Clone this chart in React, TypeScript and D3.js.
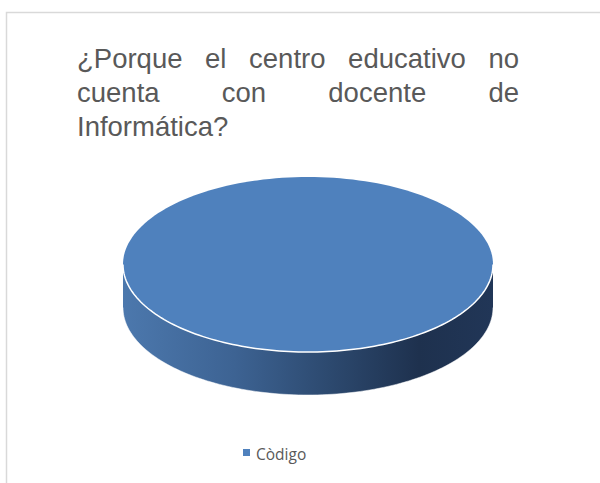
import React from "react";
import * as d3 from "d3";

const categories = ["Còdigo"];
const values = [100];
const titleLines = [
  ["¿Porque", "el", "centro", "educativo", "no"],
  ["cuenta", "con", "docente", "de"],
  ["Informática?"],
];
const colors = ["#4f81bd"];

const W = 600;
const H = 483;
const titleFont = "27.5px 'Liberation Sans', Arial, sans-serif";

function measure(text: string, font: string): number {
  const c = document.createElement("canvas");
  const ctx = c.getContext("2d")!;
  ctx.font = font;
  return ctx.measureText(text).width;
}

export default function App() {
  const cx = 308;
  const cy = 264.5;
  const rx = 185;
  const ry = 87.5;
  const depth = 43;

  const pie = d3.pie<number>().sort(null)(values);
  const ex = d3.scaleLinear().domain([-1, 1]).range([cx - rx, cx + rx]);
  const ey = d3.scaleLinear().domain([-1, 1]).range([cy - ry, cy + ry]);

  const topPath = (s: number, e: number) => {
    const p = d3.path();
    const n = 180;
    const full = e - s >= Math.PI * 2 - 1e-6;
    if (!full) p.moveTo(cx, cy);
    for (let i = 0; i <= n; i++) {
      const a = s + ((e - s) * i) / n;
      const x = ex(Math.sin(a));
      const y = ey(-Math.cos(a));
      if (i === 0 && full) p.moveTo(x, y);
      else p.lineTo(x, y);
    }
    p.closePath();
    return p.toString();
  };

  const sidePath = (s: number, e: number) => {
    const a0 = Math.max(s, Math.PI / 2);
    const a1 = Math.min(e, (Math.PI * 3) / 2);
    if (a1 <= a0) return "";
    const n = 120;
    const p = d3.path();
    for (let i = 0; i <= n; i++) {
      const a = a0 + ((a1 - a0) * i) / n;
      const x = ex(Math.sin(a));
      const y = ey(-Math.cos(a));
      if (i === 0) p.moveTo(x, y);
      else p.lineTo(x, y);
    }
    for (let i = n; i >= 0; i--) {
      const a = a0 + ((a1 - a0) * i) / n;
      p.lineTo(ex(Math.sin(a)), ey(-Math.cos(a)) + depth);
    }
    p.closePath();
    return p.toString();
  };

  const arcLine = (offset: number) => {
    const p = d3.path();
    const n = 120;
    for (let i = 0; i <= n; i++) {
      const a = Math.PI / 2 + (Math.PI * i) / n;
      const x = ex(Math.sin(a));
      const y = ey(-Math.cos(a)) + offset;
      if (i === 0) p.moveTo(x, y);
      else p.lineTo(x, y);
    }
    return p.toString();
  };

  const left = 77;
  const right = 519;
  const lineYs = [68, 102, 136];

  const titleEls: React.ReactNode[] = [];
  titleLines.forEach((words, li) => {
    const last = li === titleLines.length - 1;
    if (last || words.length === 1) {
      titleEls.push(
        <text key={`t${li}`} x={left} y={lineYs[li]}>
          {words.join(" ")}
        </text>
      );
      return;
    }
    const widths = words.map((w) => measure(w, titleFont));
    const total = widths.reduce((a, b) => a + b, 0);
    const gap = (right - left - total) / (words.length - 1);
    let x = left;
    words.forEach((w, wi) => {
      titleEls.push(
        <text key={`t${li}-${wi}`} x={x} y={lineYs[li]}>
          {w}
        </text>
      );
      x += widths[wi] + gap;
    });
  });

  return (
    <svg width={W} height={H} style={{ position: "absolute", left: 0, top: 0 }}>
      <defs>
        <linearGradient id="sideGrad" x1={cx - rx} x2={cx + rx} y1={0} y2={0} gradientUnits="userSpaceOnUse">
          <stop offset="0" stopColor="#4c78ad" />
          <stop offset="0.3" stopColor="#3d6393" />
          <stop offset="0.55" stopColor="#2d4a70" />
          <stop offset="0.8" stopColor="#1e314e" />
          <stop offset="1" stopColor="#213657" />
        </linearGradient>
      </defs>
      <rect x={0} y={0} width={W} height={H} fill="#ffffff" />
      <rect x={6.5} y={12.5} width={700} height={600} fill="none" stroke="#d9d9d9" strokeWidth={1.5} />
      <g fill="#595959" style={{ font: titleFont }}>
        {titleEls}
      </g>
      {pie.map((d, i) => (
        <g key={i}>
          <path d={sidePath(d.startAngle, d.endAngle)} fill="url(#sideGrad)" />
          <path d={arcLine(depth)} fill="none" stroke="#ffffff" strokeOpacity={0.5} strokeWidth={1} />
          <path d={topPath(d.startAngle, d.endAngle)} fill={colors[i]} />
          <path d={arcLine(0)} fill="none" stroke="#ffffff" strokeWidth={1.5} />
        </g>
      ))}
      <g>
        {categories.map((c, i) => (
          <g key={c}>
            <rect x={243} y={449} width={7} height={7} fill={colors[i]} />
            <text x={256} y={459.5} fill="#595959" style={{ font: "15.5px 'Open Sans', 'Noto Sans', sans-serif" }}>
              {c}
            </text>
          </g>
        ))}
      </g>
    </svg>
  );
}
